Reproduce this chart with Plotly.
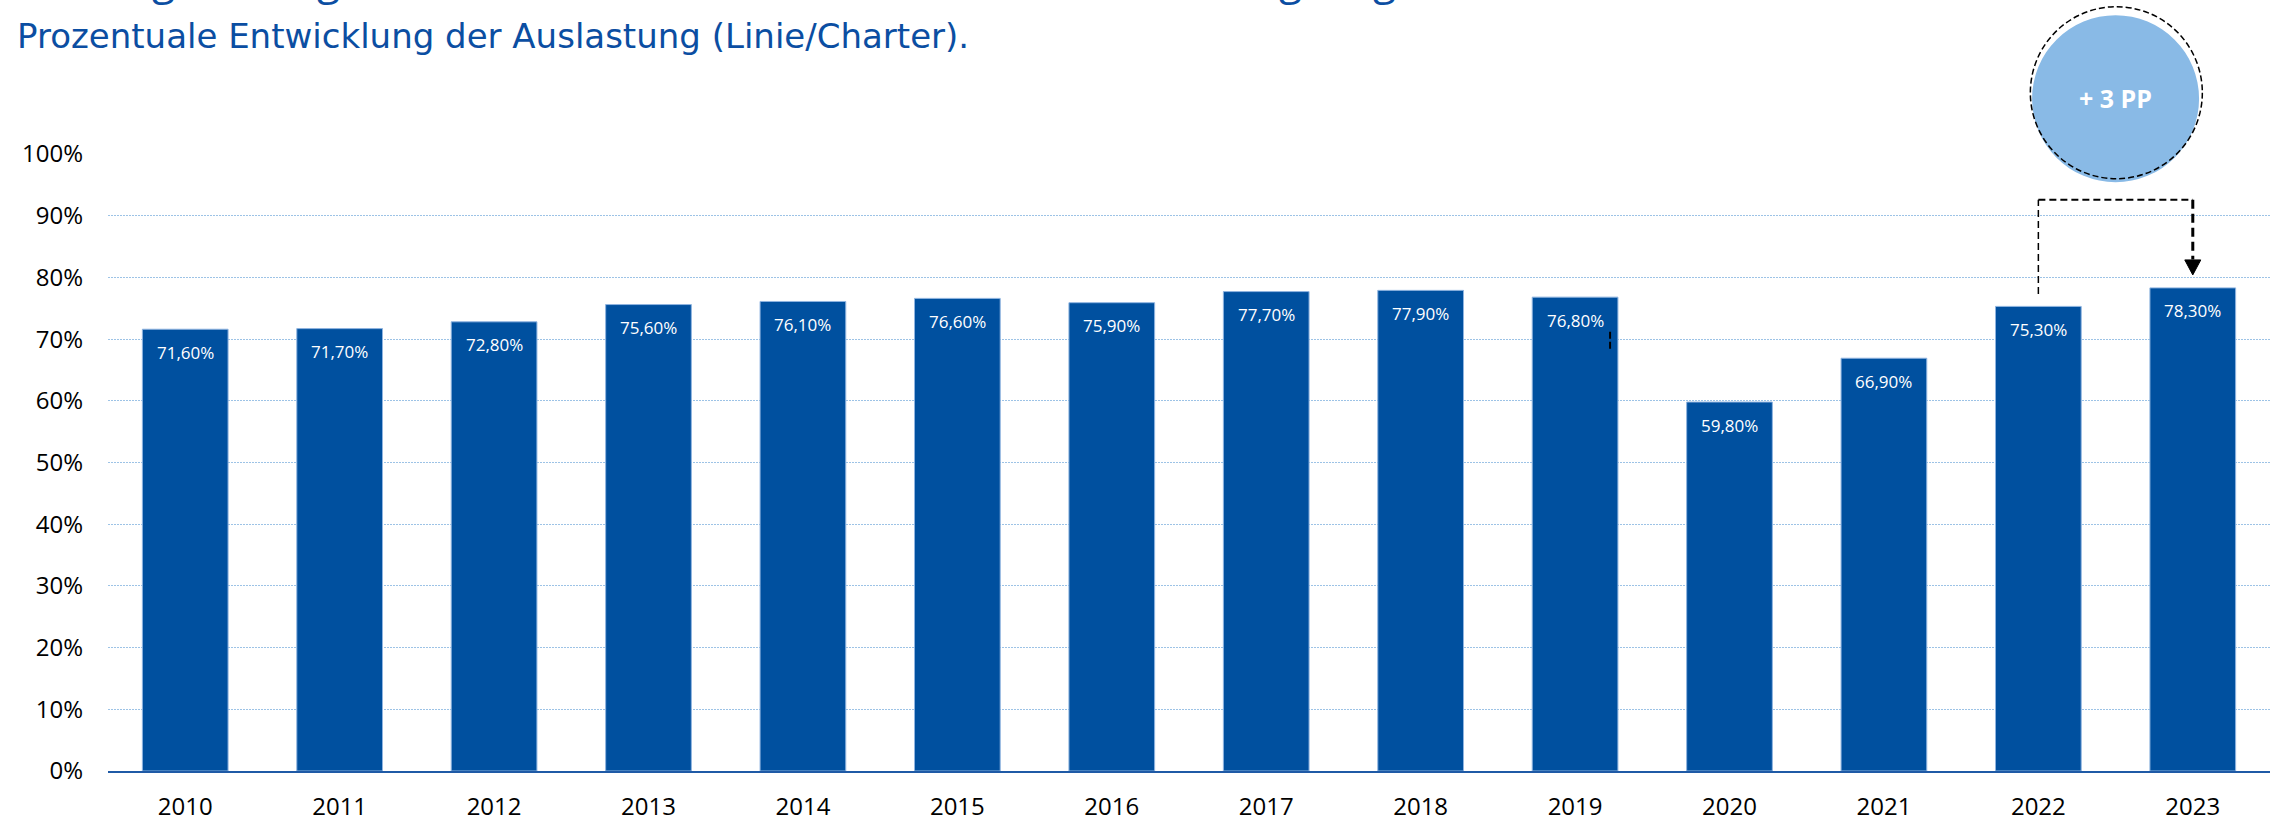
import plotly.graph_objects as go

# ---------------- data ----------------
years = ["2010", "2011", "2012", "2013", "2014", "2015", "2016",
         "2017", "2018", "2019", "2020", "2021", "2022", "2023"]
load_factor = [71.6, 71.7, 72.8, 75.6, 76.1, 76.6, 75.9,
               77.7, 77.9, 76.8, 59.8, 66.9, 75.3, 78.3]
y_tick_vals = [0, 10, 20, 30, 40, 50, 60, 70, 80, 90, 100]
y_tick_text = [f"{v}%" for v in y_tick_vals]
subtitle = "Prozentuale Entwicklung der Auslastung (Linie/Charter)."
# only the descenders of the (cut-off) headline are visible in the picture
title_fragments = ["g", "g", "g", "g"]

# ---------------- styles ----------------
BAR = "#00509F"
GRID = "#9DC3E6"
TXT_BLUE = "#0B4EA2"
FONT = "Open Sans"
W, H = 2282, 821
ML, MR, MT, MB = 108, 12, 154, 50
PW, PH = W - ML - MR, H - MT - MB


def px_to_paper_x(px):
    return (px - ML) / PW


def px_to_paper_y(py):
    return (H - MB - py) / PH


x_idx = list(range(len(years)))


def fmt(v):
    return f"{v:.2f}".replace(".", ",") + "%"


fig = go.Figure()
fig.add_trace(go.Bar(
    x=x_idx, y=load_factor, width=0.555,
    marker=dict(color=BAR, line=dict(color="#8FB4E0", width=1)),
    hoverinfo="skip", showlegend=False,
))

annotations = []
for i, v in zip(x_idx, load_factor):
    annotations.append(dict(
        x=i, y=v, xref="x", yref="y", text=fmt(v), showarrow=False,
        yshift=-23, font=dict(family=FONT, size=17, color="white"),
    ))

# subtitle
annotations.append(dict(
    x=px_to_paper_x(15), y=px_to_paper_y(36.5), xref="paper", yref="paper",
    text=subtitle, showarrow=False,
    xanchor="left", yanchor="middle",
    font=dict(family="DejaVu Sans", size=34, color=TXT_BLUE),
))

# headline fragments (mostly above the visible page)
for frag, px in zip(title_fragments, [163, 328, 1290, 1384]):
    annotations.append(dict(
        x=px_to_paper_x(px), y=px_to_paper_y(-21), xref="paper", yref="paper",
        text=frag, showarrow=False, xanchor="center", yanchor="middle",
        font=dict(family=FONT, size=42, color=TXT_BLUE),
    ))

# bubble text (difference of last two years)
diff = load_factor[-1] - load_factor[-2]
annotations.append(dict(
    x=len(years) - 1.5, y=px_to_paper_y(98), xref="x", yref="paper",
    text=f"<b>+ {diff:.0f} PP</b>", showarrow=False,
    xanchor="center", yanchor="middle",
    font=dict(family=FONT, size=25, color="white"),
))

shapes = []
# bubble filled circle
shapes.append(dict(
    type="circle", xref="x", yref="paper",
    xsizemode="pixel", ysizemode="pixel",
    xanchor=len(years) - 1.5, yanchor=px_to_paper_y(98.7),
    x0=-83.5, x1=83.5, y0=-83.5, y1=83.5,
    fillcolor="#89BAE6", line=dict(width=0), layer="above",
))
# bubble dashed outline
shapes.append(dict(
    type="circle", xref="x", yref="paper",
    xsizemode="pixel", ysizemode="pixel",
    xanchor=len(years) - 1.5 + 0.005, yanchor=px_to_paper_y(92.7),
    x0=-86, x1=86, y0=-86, y1=86,
    fillcolor="rgba(0,0,0,0)", line=dict(color="black", width=1.5, dash="6px,3px"),
    layer="above",
))

# connector between the last two bars
i_prev, i_last = len(years) - 2, len(years) - 1
v_prev, v_last = load_factor[-2], load_factor[-1]
y_h = 92.6
shapes.append(dict(type="line", xref="x", yref="y", x0=i_prev, x1=i_prev,
                   y0=v_prev + 2.0, y1=y_h,
                   line=dict(color="black", width=1.5, dash="7px,4px")))
shapes.append(dict(type="line", xref="x", yref="y", x0=i_prev, x1=i_last,
                   y0=y_h, y1=y_h,
                   line=dict(color="black", width=2, dash="7px,4px")))
shapes.append(dict(type="line", xref="x", yref="y", x0=i_last, x1=i_last,
                   y0=y_h, y1=v_last + 4.6,
                   line=dict(color="black", width=3, dash="9px,5px")))
shapes.append(dict(type="path", xref="x", yref="y",
                   xsizemode="pixel", ysizemode="pixel",
                   xanchor=i_last, yanchor=v_last + 2.1,
                   path="M -8,15 L 8,15 L 0,0 Z",
                   fillcolor="black", line=dict(color="black", width=1)))
# small stray dashed mark at 2019 bar
shapes.append(dict(type="line", xref="x", yref="y",
                   xsizemode="pixel", xanchor=9, x0=35, x1=35,
                   y0=71.2, y1=68.0,
                   line=dict(color="black", width=2, dash="7px,3px")))

fig.update_layout(
    width=W, height=H,
    margin=dict(l=ML, r=MR, t=MT, b=MB, pad=0, autoexpand=False),
    paper_bgcolor="white", plot_bgcolor="white",
    annotations=annotations, shapes=shapes,
    font=dict(family=FONT, color="black"),
    xaxis=dict(
        tickmode="array", tickvals=x_idx, ticktext=years,
        range=[-0.5, len(years) - 0.5],
        showgrid=False, zeroline=False,
        showline=True, linecolor="#1F5AA6", linewidth=2,
        ticks="", ticklabelstandoff=13, automargin=False,
        tickfont=dict(family=FONT, size=24, color="black"),
        fixedrange=True,
    ),
    yaxis=dict(
        range=[0, 100], tickmode="array", tickvals=y_tick_vals,
        ticktext=y_tick_text,
        showgrid=True, gridcolor=GRID, gridwidth=1, griddash="2px,1px",
        zeroline=False, showline=False, ticks="",
        ticklabelstandoff=24, automargin=False,
        tickfont=dict(family=FONT, size=24, color="black"),
        fixedrange=True,
    ),
)

fig.write_html("out.html", config={"displayModeBar": False},
               post_script="document.body.style.margin='0';document.body.style.overflow='hidden';")
